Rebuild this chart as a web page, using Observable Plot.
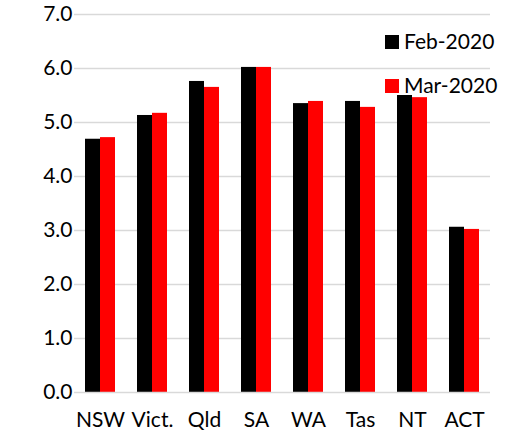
<!DOCTYPE html>
<html>
<head>
<meta charset="utf-8">
<script src="https://cdn.jsdelivr.net/npm/d3@7"></script>
<script src="https://cdn.jsdelivr.net/npm/@observablehq/plot@0.6"></script>
<style>
  html, body { margin: 0; padding: 0; background: #fff; }
  #wrap { position: relative; width: 523px; height: 430px; font-family: Lato, "Open Sans", sans-serif; }
  .leg { position: absolute; left: 385px; font-size: 21px; line-height: 21px; color: #000; white-space: nowrap; }
  .leg .sw { display: inline-block; width: 14px; height: 14px; margin-right: 5px; vertical-align: baseline; }
</style>
</head>
<body>
<div id="wrap"></div>
<script>
const states = ["NSW", "Vict.", "Qld", "SA", "WA", "Tas", "NT", "ACT"];
const feb2020 = [4.69, 5.13, 5.76, 6.02, 5.35, 5.39, 5.50, 3.06];
const mar2020 = [4.72, 5.17, 5.65, 6.02, 5.39, 5.28, 5.46, 3.02];
const seriesNames = ["Feb-2020", "Mar-2020"];
const seriesColors = ["#000000", "#ff0000"];
const yTicks = [0, 1, 2, 3, 4, 5, 6, 7];

const data = [];
states.forEach((s, i) => {
  data.push({state: s, series: seriesNames[0], value: feb2020[i]});
  data.push({state: s, series: seriesNames[1], value: mar2020[i]});
});

const fmt = d => d.toFixed(1);

const chart = Plot.plot({
  width: 523,
  height: 430,
  marginLeft: 71,
  marginRight: 30,
  marginTop: 14,
  marginBottom: 38,
  style: {fontFamily: "Lato, 'Open Sans', sans-serif", fontSize: "21px", color: "#000", background: "#fff"},
  fx: {domain: states, padding: 0, label: null, axis: null},
  x: {domain: seriesNames, paddingInner: 0, paddingOuter: 0.7, axis: null},
  y: {domain: [0, 7], label: null, axis: null},
  color: {domain: seriesNames, range: seriesColors},
  marks: [
    Plot.gridY(yTicks.slice(1), {stroke: "#d9d9d9", strokeOpacity: 1, strokeWidth: 1.5}),
    Plot.axisY(yTicks, {tickSize: 0, tickPadding: 2, tickFormat: fmt, label: null, fontSize: 21}),
    Plot.axisFx({anchor: "bottom", tickSize: 0, tickPadding: 20, label: null, fontSize: 21}),
    Plot.barY(data, {fx: "state", x: "series", y: "value", fill: "series"}),
    Plot.ruleY([0], {stroke: "#d9d9d9", strokeWidth: 1.5})
  ]
});

const wrap = document.getElementById("wrap");
wrap.appendChild(chart);

const tops = [30, 74];
seriesNames.forEach((name, i) => {
  const row = document.createElement("div");
  row.className = "leg";
  row.style.top = tops[i] + "px";
  const sw = document.createElement("span");
  sw.className = "sw";
  sw.style.background = seriesColors[i];
  row.appendChild(sw);
  row.appendChild(document.createTextNode(name));
  wrap.appendChild(row);
});
</script>
</body>
</html>
